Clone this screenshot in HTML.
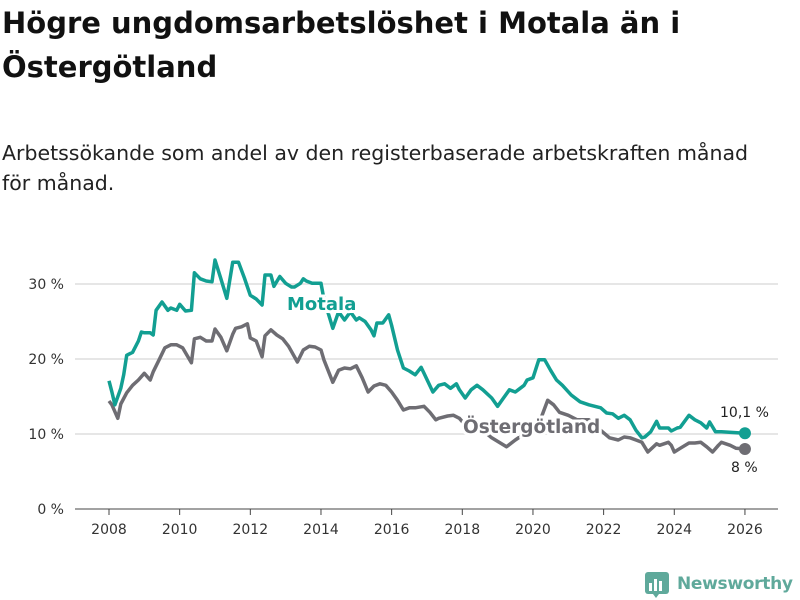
<!DOCTYPE html>
<html><head><meta charset="utf-8"><style>
body{margin:0;width:800px;height:600px;background:#fff;font-family:"DejaVu Sans",sans-serif;overflow:hidden;position:relative}
h1{position:absolute;left:2px;top:1px;margin:0;font-size:29px;line-height:44px;font-weight:bold;color:#111;width:760px;letter-spacing:0}
.sub{position:absolute;left:2px;top:138px;font-size:20.5px;line-height:30px;color:#222;width:775px}
.logo{position:absolute;left:645px;top:570px;display:flex;align-items:center}
</style></head><body>
<h1>Högre ungdomsarbetslöshet i Motala än i Östergötland</h1>
<div class="sub">Arbetssökande som andel av den registerbaserade arbetskraften månad<br>för månad.</div>
<svg id="chart" width="800" height="600" style="position:absolute;left:0;top:0"></svg>
<div class="logo">
<svg width="24" height="28"><rect x="0" y="2" width="24" height="22" rx="3" fill="#5fa99b"/><rect x="4" y="13" width="3" height="8" fill="#fff"/><rect x="9" y="9" width="3" height="12" fill="#fff"/><rect x="14" y="11" width="3" height="10" fill="#fff"/><polygon points="8,24 14,24 11,28" fill="#5fa99b"/></svg>
<span style="margin-left:8px;font-size:17px;font-weight:bold;color:#5fa99b;letter-spacing:-0.3px">Newsworthy</span></div>
<script>
const motalaMonths=[0,1,2,4,5,6,8,10,11,12,14,15,16,18,20,21,23,24,26,28,29,31,33,35,36,38,40,42,44,46,48,50,52,53,55,56,58,60,62,63,65,66,67,69,72,73,76,78,80,82,84,85,87,89,90,91,93,95,96,98,100,102,104,106,107,110,112,114,116,118,119,121,123,125,127,130,132,134,136,138,139,141,142,144,146,148,150,152,154,157,160,163,165,167,169,171,173,175,177,179,181,182,184,186,187,190,191,193,194,197,199,201,203,204,206,208,216];
const motalaValues=[17.1,15.6,13.9,16.1,17.9,20.5,20.9,22.4,23.6,23.5,23.5,23.2,26.5,27.6,26.5,26.8,26.5,27.3,26.4,26.5,31.5,30.7,30.4,30.3,33.2,30.7,28.1,32.9,32.9,30.8,28.5,28,27.2,31.2,31.2,29.7,31,30.1,29.6,29.6,30.1,30.7,30.4,30.1,30.1,28,24.1,26.3,25.2,26.3,25.2,25.5,25,23.9,23.1,24.8,24.8,25.9,24.5,21.2,18.8,18.4,17.9,18.9,18.1,15.6,16.5,16.7,16.1,16.7,15.9,14.8,15.9,16.5,15.9,14.8,13.7,14.8,15.9,15.6,15.9,16.5,17.2,17.5,19.9,19.9,18.5,17.2,16.5,15.2,14.3,13.9,13.7,13.5,12.8,12.7,12.1,12.5,11.9,10.5,9.5,9.6,10.3,11.7,10.8,10.8,10.4,10.8,10.9,12.5,11.9,11.5,10.8,11.6,10.3,10.3,10.1];
const ostMonths=[0,1,3,4,6,8,10,12,14,15,17,19,21,23,25,28,29,31,33,35,36,38,40,42,43,45,47,48,50,52,53,55,57,59,61,64,66,68,70,72,73,76,78,80,82,84,86,88,90,92,94,96,98,100,102,104,107,109,111,112,115,117,119,123,126,130,135,138,141,145,149,151,153,156,159,163,167,170,173,175,177,179,181,183,186,187,190,191,192,194,197,199,201,203,205,207,208,211,213,216];
const ostValues=[14.4,13.9,12.1,14,15.5,16.5,17.2,18.1,17.2,18.3,19.9,21.5,21.9,21.9,21.5,19.5,22.7,22.9,22.4,22.4,24,22.9,21.1,23.3,24.1,24.3,24.7,22.8,22.4,20.3,23.1,23.9,23.2,22.7,21.7,19.6,21.2,21.7,21.6,21.2,19.9,16.9,18.5,18.8,18.7,19.1,17.5,15.6,16.4,16.7,16.5,15.6,14.5,13.2,13.5,13.5,13.7,12.9,11.9,12.1,12.4,12.5,12.1,10.3,10.8,9.5,8.3,9.2,10,10.3,14.5,13.9,12.9,12.5,11.9,11.9,10.5,9.5,9.2,9.6,9.5,9.2,8.9,7.6,8.7,8.5,8.9,8.5,7.6,8.1,8.8,8.8,8.9,8.3,7.6,8.5,8.9,8.5,8.1,8.0];
const yTicks=[0,10,20,30];
const xTicks=[2008,2010,2012,2014,2016,2018,2020,2022,2024,2026];
const NS="http://www.w3.org/2000/svg";
const svg=document.getElementById('chart');
const X=m=>109+m*(35.33/12);
const XY=yr=>109+(yr-2008)*35.33;
const Y=v=>509-v*7.5;
const FF='DejaVu Sans';
function mk(t,a,p){const e=document.createElementNS(NS,t);for(const k in a)e.setAttribute(k,a[k]);(p||svg).appendChild(e);return e;}
yTicks.forEach(t=>{
  if(t>0){const g=mk('line',{x1:75,x2:778,y1:Y(t),y2:Y(t),stroke:'#ddd','stroke-width':1.5});
  
  }
  const l=mk('text',{x:64,y:Y(t)+5,'text-anchor':'end','font-size':14,fill:'#333','font-family':FF});
  l.textContent=t+' %';
  
  
});
const ax=mk('line',{x1:75,x2:778,y1:509,y2:509,stroke:'#444','stroke-width':1});


xTicks.forEach(t=>{
  mk('line',{x1:XY(t),x2:XY(t),y1:509,y2:515,stroke:'#444'});
  const l=mk('text',{x:XY(t),y:534,'text-anchor':'middle','font-size':14,fill:'#333','font-family':FF});
  l.textContent=t;
  
  
});
function line(ms,vs,c,name){
  const d=ms.map((m,i)=>(i?'L':'M')+X(m).toFixed(1)+','+Y(vs[i]).toFixed(1)).join('');
  const p=mk('path',{d:d,fill:'none',stroke:c,'stroke-width':3.5,'stroke-linejoin':'round'});
  
  
  const n=ms.length-1;
  const dot=mk('circle',{cx:X(ms[n]),cy:Y(vs[n]),r:6,fill:c});
  
  
}
line(ostMonths,ostValues,'#6e6d73','ostergotland');
line(motalaMonths,motalaValues,'#129f92','motala');
function lbl(x,y,t,c,name,size,bold){
  const e=mk('text',{x:x,y:y,'font-size':size,'font-weight':bold?'bold':'normal',fill:c,stroke:'#fff','stroke-width':bold?6:4,'paint-order':'stroke','font-family':FF});
  e.textContent=t;
  
  
}
lbl(287,310,'Motala','#129f92','motala-label',18,true);
lbl(463,433,'Östergötland','#6e6d73','ostergotland-label',18.5,true);
lbl(720,417,'10,1 %','#222','motala-end-value',14,false);
lbl(731,472,'8 %','#222','ostergotland-end-value',14,false);
</script>
</body></html>
